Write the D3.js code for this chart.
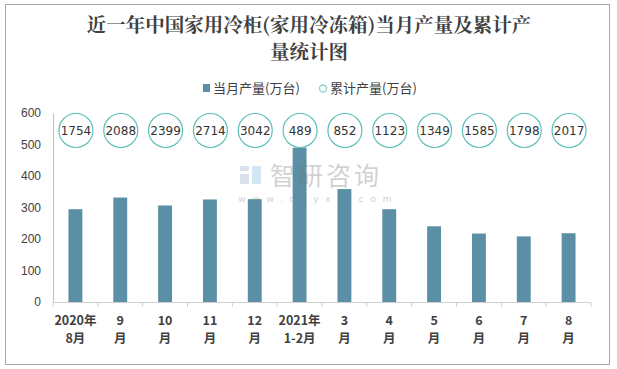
<!DOCTYPE html>
<html><head><meta charset="utf-8">
<script src="https://cdn.jsdelivr.net/npm/d3@7/dist/d3.min.js"></script>
<style>body{margin:0;background:#fff}svg{display:block}</style>
</head><body>
<svg id="c" width="617" height="369"></svg>
<script>
const categories = ["2020年|8月","9|月","10|月","11|月","12|月","2021年|1-2月","3|月","4|月","5|月","6|月","7|月","8|月"];
const monthly = [294, 331, 306, 325, 326, 489, 358, 294, 240, 217, 208, 218];
const cumulative = [1754, 2088, 2399, 2714, 3042, 489, 852, 1123, 1349, 1585, 1798, 2017];
const yTicks = [0, 100, 200, 300, 400, 500, 600];
const titleLines = ["近一年中国家用冷柜(家用冷冻箱)当月产量及累计产", "量统计图"];
const legendNames = ["当月产量(万台)", "累计产量(万台)"];

const svg = d3.select("#c");
const font = "'Noto Sans CJK SC','Microsoft YaHei',sans-serif";
svg.append("rect").attr("x",5.5).attr("y",4.5).attr("width",604).attr("height",360)
  .attr("fill","#fff").attr("stroke","#a6a6a6").attr("stroke-width",1);

svg.selectAll("text.title").data(titleLines).enter().append("text")
  .attr("x",309).attr("y",(d,i)=>32+i*27).attr("text-anchor","middle")
  .attr("font-family","'Noto Serif CJK SC','Noto Sans CJK SC',serif").attr("font-weight","bold")
  .attr("font-size",19.5).attr("fill","#404040").text(d=>d);

// legend
svg.append("rect").attr("x",203).attr("y",84).attr("width",7).attr("height",8).attr("fill","#5b8fa6");
svg.append("text").attr("x",213).attr("y",93).attr("font-family",font).attr("font-size",13).attr("fill","#404040").text(legendNames[0]);
svg.append("circle").attr("cx",323).attr("cy",88.5).attr("r",3.5).attr("fill","#fff").attr("stroke","#8fd3cd").attr("stroke-width",1.3);
svg.append("text").attr("x",330).attr("y",93).attr("font-family",font).attr("font-size",13).attr("fill","#404040").text(legendNames[1]);

const x = d3.scaleBand().domain(categories).range([53, 591]).paddingInner(0.69).paddingOuter(0.345);
const y = d3.scaleLinear().domain([0, 600]).range([302, 112.7]);

// y axis
const ya = svg.append("g").attr("transform","translate(53,0)").call(d3.axisLeft(y).tickValues(yTicks).tickSize(0).tickPadding(12));
ya.select(".domain").attr("stroke","#bfbfbf");
ya.selectAll("text").attr("font-family","'Liberation Sans',Arial,sans-serif").attr("font-size",12).attr("fill","#404040");

// bars
svg.selectAll("rect.bar").data(monthly).enter().append("rect")
  .attr("x",(d,i)=>x(categories[i])).attr("width",x.bandwidth())
  .attr("y",d=>y(d)).attr("height",d=>y(0)-y(d)).attr("fill","#5b8fa6");

// x axis
const xa = svg.append("g").attr("transform","translate(0,302)");
xa.append("line").attr("x1",53).attr("x2",591).attr("y1",0.5).attr("y2",0.5).attr("stroke","#d0d0d0");
const step = x.step();
xa.selectAll("line.tk").data(d3.range(categories.length+1)).enter().append("line")
  .attr("x1",i=>53+i*step).attr("x2",i=>53+i*step).attr("y1",0).attr("y2",5).attr("stroke","#d0d0d0");
categories.forEach((c,i)=>{
  const cx = x(c)+x.bandwidth()/2;
  c.split("|").forEach((s,j)=>{
    xa.append("text").attr("x",cx).attr("y",23+j*18).attr("text-anchor","middle")
      .attr("font-family",font).attr("font-weight","bold").attr("font-size",12.5).attr("fill","#404040").text(s);
  });
});

// cumulative circles
const g = svg.selectAll("g.cum").data(cumulative).enter().append("g")
  .attr("transform",(d,i)=>`translate(${x(categories[i])+x.bandwidth()/2+0.5},130.5)`);
g.append("circle").attr("r",17).attr("fill","#fff").attr("stroke","#5cc1b8").attr("stroke-width",1.2);
g.append("text").attr("text-anchor","middle").attr("dy",4.5).attr("font-family","'DejaVu Sans',sans-serif")
  .attr("font-size",12).attr("fill","#333").text(d=>d);

// watermark
const wm = svg.append("g").attr("opacity",0.33);
wm.append("rect").attr("x",240).attr("y",166).attr("width",9).attr("height",5).attr("fill","#8fa8c8");
wm.append("rect").attr("x",240).attr("y",174).attr("width",9).attr("height",10).attr("fill","#8fa8c8");
wm.append("rect").attr("x",252).attr("y",166).attr("width",9).attr("height",18).attr("fill","#7fb3e0");
wm.append("text").attr("x",270).attr("y",185).attr("font-family",font).attr("font-size",25).attr("fill","#777").attr("letter-spacing",3).text("智研咨询");
wm.append("text").attr("x",238).attr("y",202).attr("font-family","'DejaVu Sans',sans-serif").attr("font-size",9.5).attr("fill","#777").attr("letter-spacing",6.4).text("www.chyxx.com");
</script>
</body></html>
